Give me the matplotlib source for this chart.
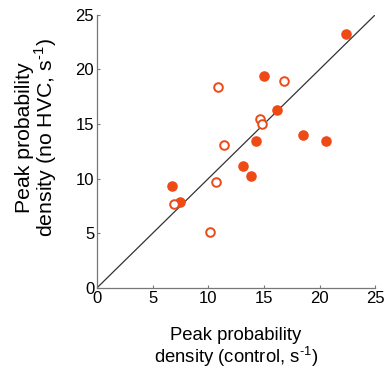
import matplotlib
matplotlib.use("Agg")
import matplotlib.pyplot as plt

plt.rcParams['font.family'] = ['Liberation Sans', 'DejaVu Sans']
plt.rcParams['mathtext.fontset'] = 'custom'
plt.rcParams['mathtext.rm'] = 'Liberation Sans'

# Peak probability density (s^-1): control vs. no HVC
filled_control = [22.4, 15.0, 16.2, 18.5, 20.6, 14.3, 13.1, 13.8, 6.7, 7.5]
filled_nohvc = [23.2, 19.4, 16.25, 13.95, 13.4, 13.45, 11.2, 10.2, 9.35, 7.9]
open_control = [10.9, 16.8, 14.65, 14.8, 11.45, 10.7, 6.95, 10.15]
open_nohvc = [18.4, 18.9, 15.5, 15.0, 13.1, 9.7, 7.65, 5.1]
ticks = [0, 5, 10, 15, 20, 25]

color = '#EE4A16'
unit = r's$^{\mathregular{‐1}}$'

fig = plt.figure(figsize=(3.88, 3.70), dpi=100)
ax = fig.add_axes([0.25, 0.222, 0.717, 0.738])

ax.plot([0, 25], [0, 25], color='#333333', lw=0.9, zorder=1)
ax.plot(filled_control, filled_nohvc, 'o', ms=6.6, mfc=color, mec=color,
        mew=1.0, ls='none', zorder=3)
ax.plot(open_control, open_nohvc, 'o', ms=6.2, mfc='white', mec=color,
        mew=1.4, ls='none', zorder=3)

ax.set_xlim(0, 25)
ax.set_ylim(0, 25)
ax.set_xticks(ticks)
ax.set_yticks(ticks)
ax.tick_params(direction='in', length=2.5, width=0.8, color='#777777',
               labelsize=12, pad=2)
for side in ('top', 'right'):
    ax.spines[side].set_visible(False)
for side in ('left', 'bottom'):
    ax.spines[side].set_color('#777777')
    ax.spines[side].set_linewidth(0.9)

fig.text(0.608, 0.060, 'Peak probability\ndensity (control, ' + unit + ')',
         fontsize=13.3, ha='center', va='center', linespacing=1.05)
fig.text(0.096, 0.627, 'Peak probability\ndensity (no HVC, ' + unit + ')',
         fontsize=15.3, ha='center', va='center', rotation=90,
         linespacing=0.92)

fig.savefig('out.png', dpi=100)
